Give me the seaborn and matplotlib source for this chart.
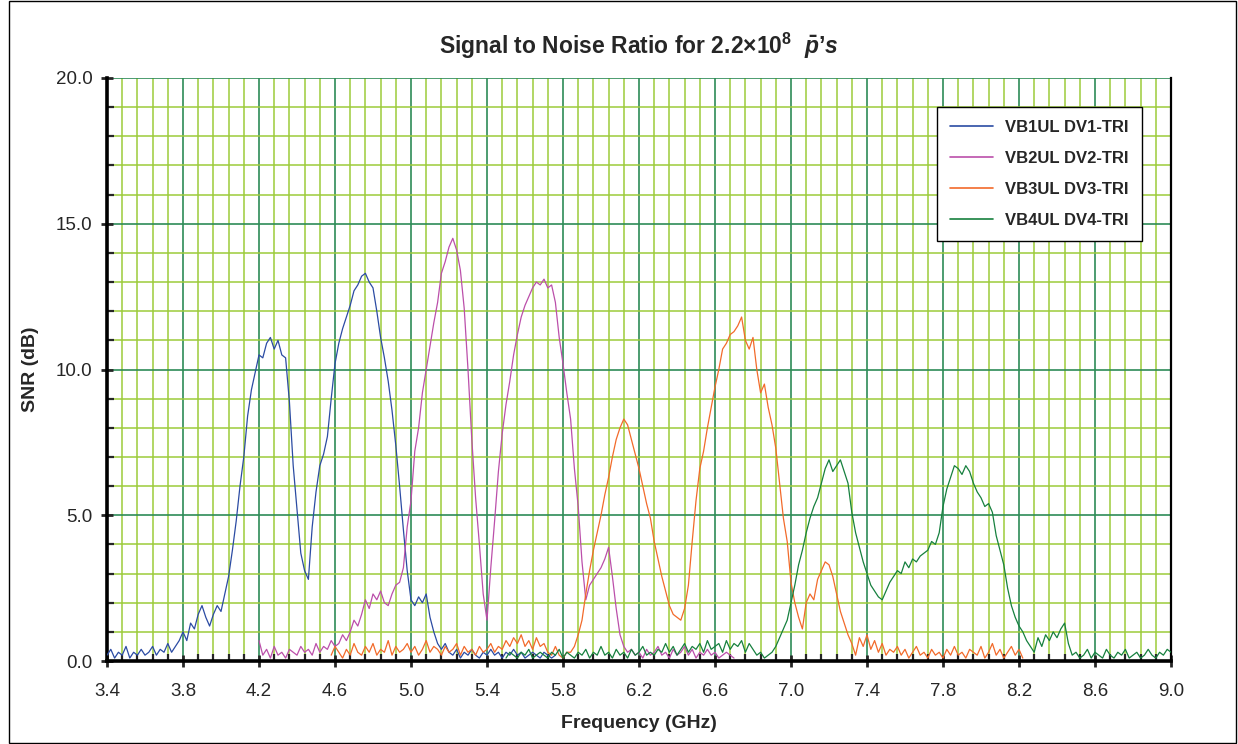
import numpy as np
import pandas as pd
import matplotlib
matplotlib.use('Agg')
import matplotlib.pyplot as plt
import seaborn as sns
from matplotlib.ticker import FixedLocator, FormatStrFormatter
from matplotlib.patches import Rectangle

# valores, passo de 0.02 GHz
snr_vb1 = [
    0.2, 0.4, 0.1, 0.3, 0.2, 0.5, 0.1, 0.3, 0.2, 0.4,       # 3.40
    0.2, 0.3, 0.5, 0.2, 0.4, 0.3, 0.6, 0.3, 0.5, 0.7,       # 3.60
    1.0, 0.7, 1.3, 1.1, 1.6, 1.9, 1.5, 1.2, 1.6, 1.9,       # 3.80
    1.7, 2.3, 2.9, 3.8, 4.8, 6.0, 7.0, 8.4, 9.3, 9.9,       # 4.00
    10.5, 10.4, 10.9, 11.1, 10.7, 11.0, 10.5, 10.4, 8.9, 6.7,  # 4.20
    5.2, 3.7, 3.1, 2.8, 4.6, 5.8, 6.7, 7.1, 7.7, 9.0,       # 4.40
    10.2, 10.9, 11.4, 11.8, 12.2, 12.7, 12.9, 13.2, 13.3, 13.0,  # 4.60
    12.8, 12.0, 11.1, 10.4, 9.6, 8.6, 7.4, 6.0, 4.5, 3.1,   # 4.80
    2.1, 1.9, 2.2, 2.0, 2.3, 1.5, 1.0, 0.6, 0.4, 0.6,       # 5.00
    0.3, 0.2, 0.4, 0.1, 0.3, 0.2, 0.4, 0.2, 0.1, 0.3,       # 5.20
    0.2, 0.4, 0.2, 0.3, 0.1, 0.3, 0.2, 0.4, 0.2, 0.3,       # 5.40
    0.1, 0.2, 0.3, 0.2, 0.1, 0.3, 0.2, 0.1, 0.2,            # 5.60
]
snr_vb2 = [
    0.7, 0.2, 0.4, 0.1, 0.5, 0.2, 0.3, 0.1, 0.4, 0.3,       # 4.20
    0.2, 0.5, 0.3, 0.4, 0.2, 0.6, 0.3, 0.5, 0.4, 0.7,       # 4.40
    0.5, 0.6, 0.9, 0.7, 1.0, 1.4, 1.2, 1.6, 2.1, 1.8,       # 4.60
    2.3, 2.1, 2.4, 2.0, 1.9, 2.3, 2.6, 2.7, 3.2, 4.6,       # 4.80
    5.5, 7.2, 8.0, 9.2, 10.0, 10.8, 11.6, 12.3, 13.3, 13.7,  # 5.00
    14.2, 14.5, 14.1, 13.4, 12.1, 10.0, 7.6, 5.6, 4.0, 2.3,  # 5.20
    1.4, 3.2, 4.8, 6.5, 7.8, 8.8, 9.6, 10.5, 11.2, 11.8,    # 5.40
    12.2, 12.5, 12.8, 13.0, 12.9, 13.1, 12.8, 12.9, 12.3, 11.1,  # 5.60
    10.2, 9.2, 8.3, 6.6, 5.3, 3.4, 2.1, 2.6, 2.8, 3.0,      # 5.80
    3.2, 3.5, 3.9, 2.9, 1.8, 0.9, 0.5, 0.3, 0.4, 0.2,       # 6.00
    0.3, 0.1, 0.4, 0.2, 0.3, 0.5, 0.2, 0.3, 0.1, 0.4,       # 6.20
    0.2, 0.3, 0.5, 0.2, 0.4, 0.1, 0.3, 0.2, 0.4, 0.2,       # 6.40
    0.3, 0.1, 0.2, 0.3, 0.2, 0.1,                           # 6.60
]
snr_vb3 = [
    0.2, 0.5, 0.3, 0.1, 0.4, 0.2, 0.6, 0.3, 0.2, 0.5,       # 4.58
    0.3, 0.6, 0.2, 0.4, 0.3, 0.7, 0.2, 0.5, 0.3, 0.4,       # 4.78
    0.6, 0.3, 0.5, 0.2, 0.4, 0.7, 0.3, 0.5, 0.4, 0.2,       # 4.98
    0.5, 0.3, 0.4, 0.6, 0.2, 0.5, 0.3, 0.4, 0.2, 0.5,       # 5.18
    0.3, 0.4, 0.6, 0.3, 0.5, 0.4, 0.7, 0.5, 0.8, 0.6,       # 5.38
    0.9, 0.5, 0.7, 0.4, 0.8, 0.5, 0.6, 0.3, 0.2, 0.5,       # 5.58
    0.2, 0.1, 0.3, 0.3, 0.5, 0.9, 1.4, 2.3, 3.1, 3.8,       # 5.78
    4.4, 5.0, 5.7, 6.3, 7.0, 7.6, 8.0, 8.3, 8.1, 7.6,       # 5.98
    7.1, 6.6, 6.0, 5.4, 4.9, 4.1, 3.5, 2.9, 2.4, 1.9,       # 6.18
    1.6, 1.5, 1.4, 1.8, 2.6, 4.1, 5.5, 6.6, 7.2, 8.0,       # 6.38
    8.7, 9.4, 10.0, 10.7, 10.9, 11.2, 11.3, 11.5, 11.8, 11.0,  # 6.58
    10.7, 11.1, 10.0, 9.2, 9.5, 8.7, 8.1, 7.3, 6.1, 4.9,    # 6.78
    4.1, 2.7, 2.0, 1.5, 1.1, 2.0, 2.3, 2.1, 2.8, 3.1,       # 6.98
    3.4, 3.3, 2.9, 2.3, 1.7, 1.3, 0.9, 0.6, 0.2, 0.8,       # 7.18
    0.5, 0.9, 0.4, 0.7, 0.3, 0.6, 0.2, 0.4, 0.3, 0.5,       # 7.38
    0.2, 0.4, 0.1, 0.3, 0.5, 0.2, 0.3, 0.1, 0.4, 0.2,       # 7.58
    0.3, 0.1, 0.4, 0.2, 0.5, 0.2, 0.3, 0.1, 0.4, 0.3,       # 7.78
    0.2, 0.5, 0.1, 0.3, 0.6, 0.2, 0.4, 0.1, 0.3, 0.5,       # 7.98
    0.2, 0.4, 0.1,                                          # 8.18
]
snr_vb4 = [
    0.1, 0.3, 0.2, 0.1, 0.3, 0.2, 0.4, 0.1, 0.2, 0.3,       # 5.50
    0.2, 0.1, 0.3, 0.2, 0.4, 0.1, 0.3, 0.2, 0.1, 0.3,       # 5.70
    0.2, 0.4, 0.1, 0.3, 0.2, 0.5, 0.2, 0.3, 0.1, 0.4,       # 5.90
    0.2, 0.3, 0.1, 0.4, 0.2, 0.3, 0.5, 0.2, 0.3, 0.2,       # 6.10
    0.4, 0.3, 0.6, 0.3, 0.5, 0.2, 0.4, 0.6, 0.3, 0.5,       # 6.30
    0.4, 0.6, 0.3, 0.7, 0.4, 0.5, 0.6, 0.3, 0.7, 0.4,       # 6.50
    0.6, 0.5, 0.7, 0.3, 0.6, 0.4, 0.2, 0.3, 0.1, 0.2,       # 6.70
    0.3, 0.5, 0.8, 1.1, 1.4, 2.0, 2.6, 3.3, 3.8, 4.4,       # 6.90
    4.9, 5.3, 5.6, 6.1, 6.6, 6.9, 6.5, 6.7, 6.9, 6.5,       # 7.10
    6.1, 5.1, 4.4, 3.9, 3.4, 3.0, 2.6, 2.4, 2.2, 2.1,       # 7.30
    2.4, 2.7, 2.9, 3.1, 3.0, 3.4, 3.2, 3.5, 3.4, 3.6,       # 7.50
    3.7, 3.8, 4.1, 4.0, 4.4, 5.3, 5.9, 6.3, 6.7, 6.6,       # 7.70
    6.4, 6.7, 6.5, 6.1, 5.8, 5.6, 5.3, 5.4, 5.1, 4.3,       # 7.90
    3.8, 3.3, 2.5, 1.9, 1.5, 1.2, 1.0, 0.7, 0.5, 0.3,       # 8.10
    0.8, 0.5, 0.9, 0.7, 1.0, 0.8, 1.1, 1.3, 0.6, 0.2,       # 8.30
    0.3, 0.1, 0.2, 0.4, 0.1, 0.3, 0.2, 0.1, 0.4, 0.2,       # 8.50
    0.1, 0.3, 0.2, 0.4, 0.1, 0.2, 0.3, 0.1, 0.2, 0.4,       # 8.70
    0.2, 0.1, 0.3, 0.2, 0.4, 0.3,                           # 8.90
]

freq_vb1 = np.linspace(3.40, 5.76, 119)
freq_vb2 = np.linspace(4.20, 6.70, 126)
freq_vb3 = np.linspace(4.58, 8.22, 183)
freq_vb4 = np.linspace(5.50, 9.00, 176)

nomes = ['VB1UL DV1-TRI', 'VB2UL DV2-TRI', 'VB3UL DV3-TRI', 'VB4UL DV4-TRI']
cores = ['#2B4BA3', '#BB4FAA', '#F26A2A', '#16803E']

partes = []
for nome, f, s in zip(nomes, [freq_vb1, freq_vb2, freq_vb3, freq_vb4],
                      [snr_vb1, snr_vb2, snr_vb3, snr_vb4]):
    partes.append(pd.DataFrame({'freq': f, 'snr': s, 'serie': nome}))
base = pd.concat(partes, ignore_index=True)

sns.set_style('white')
plt.rcParams['font.family'] = ['Liberation Sans', 'DejaVu Sans']
plt.rcParams['mathtext.fontset'] = 'custom'
plt.rcParams['mathtext.rm'] = 'Liberation Sans:bold'
plt.rcParams['mathtext.bf'] = 'Liberation Sans:bold'
plt.rcParams['mathtext.it'] = 'Liberation Sans:bold:italic'

fig = plt.figure(figsize=(12.38, 7.44), dpi=100)
ax = fig.add_axes([107/1238, 1 - 661/744, 1064/1238, 583/744])

sns.lineplot(data=base, x='freq', y='snr', hue='serie', palette=dict(zip(nomes, cores)),
             estimator=None, sort=False, lw=0.9, ax=ax, zorder=3)

ax.set_xlim(3.4, 9.0)
ax.set_ylim(0, 20)
# ticks comecam em 3.4 (nao em multiplo de 0.4)
ax.xaxis.set_major_locator(FixedLocator(np.round(np.arange(3.4, 9.01, 0.4), 2)))
ax.xaxis.set_minor_locator(FixedLocator(np.round(np.arange(3.4, 9.01, 0.08), 2)))
ax.yaxis.set_major_locator(FixedLocator(np.arange(0, 20.1, 5)))
ax.yaxis.set_minor_locator(FixedLocator(np.arange(0, 20.1, 1)))
ax.xaxis.set_major_formatter(FormatStrFormatter('%.1f'))
ax.yaxis.set_major_formatter(FormatStrFormatter('%.1f'))

ax.set_axisbelow(True)
ax.grid(which='minor', color='#9CCB3B', lw=1.1)
ax.grid(which='major', color='#2E8B57', lw=1.2)

ax.tick_params(which='major', direction='inout', length=9, width=2, labelsize=13.5,
               bottom=True, left=True)
ax.tick_params(axis='x', which='major', pad=11)
ax.tick_params(axis='y', which='major', pad=6)
ax.tick_params(which='minor', direction='in', length=5, width=1.6, bottom=True, left=True)

for lado in ['left', 'bottom']:
    ax.spines[lado].set_linewidth(2.6)
    ax.spines[lado].set_color('black')
ax.spines['right'].set_linewidth(1.6)
ax.spines['right'].set_color('black')
ax.spines['top'].set_visible(False)

ax.set_xlabel('Frequency (GHz)', fontsize=14, fontweight='bold', labelpad=11)
ax.set_ylabel('SNR (dB)', fontsize=14, fontweight='bold', labelpad=12)

ax.set_title(r"Signal to Noise Ratio for 2.2$\times$10$^{8}$  $\bar{\it{p}}$$\it{’s}$",
             fontsize=16.5, fontweight='bold', pad=17)

h, l = ax.get_legend_handles_labels()
leg = ax.legend(h, l, loc='upper right', bbox_to_anchor=(0.9727, 0.9503), borderaxespad=0,
                frameon=True, fancybox=False, edgecolor='black', framealpha=1,
                prop={'weight': 'bold', 'size': 12}, handlelength=2.6, labelspacing=0.95,
                borderpad=0.8, handletextpad=0.7)
leg.get_frame().set_linewidth(1.0)
for linha in leg.get_lines():
    linha.set_linewidth(1.2)

fig.patches.append(Rectangle((0.007, 0.002), 0.991, 0.996, transform=fig.transFigure,
                             fill=False, ec='black', lw=1.0))

fig.savefig('out.png', dpi=100)
